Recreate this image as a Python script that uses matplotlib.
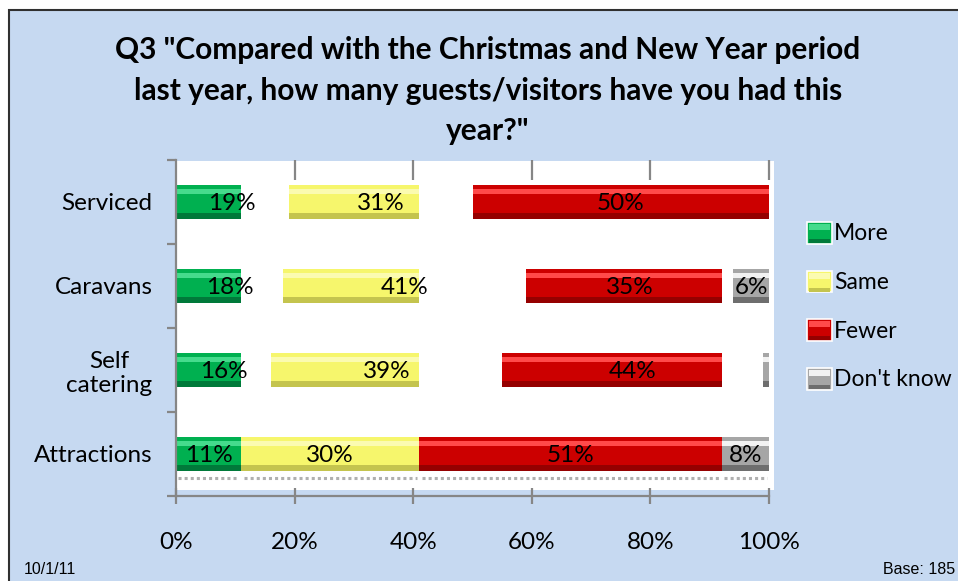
import numpy as np
import matplotlib
matplotlib.use("Agg")
from matplotlib import pyplot as plt
from matplotlib.patches import Rectangle

categories = ['Serviced', 'Caravans', 'Self\ncatering', 'Attractions']
series_names = ['More', 'Same', 'Fewer', "Don't know"]
more = [19, 18, 16, 11]
same = [31, 41, 39, 30]
fewer = [50, 35, 44, 51]
dont_know = [0, 6, 1, 8]
x_ticks = [0, 20, 40, 60, 80, 100]
x_tick_labels = ['0%', '20%', '40%', '60%', '80%', '100%']

title = 'Q3 "Compared with the Christmas and New Year period\nlast year, how many guests/visitors have you had this\nyear?"'

# (main, highlight, shade) per series
colours = [
    ('#00B050', '#45DB8C', '#00793A'),
    ('#F6F66C', '#FBFBB0', '#C4C44E'),
    ('#CC0000', '#FF4A4A', '#950000'),
    ('#A6A6A6', '#F2F2F2', '#6E6E6E'),
]

W, H = 958, 581
BG = '#C6D9F1'
AXIS_GREY = '#868686'
FONT = 'Lato'
FS = 17.5
PT = 0.72  # points per pixel at 100 dpi


def fx(px):
    return px / W


def fy(py):
    return 1 - py / H


def draw_segment(ax, yj, value, left, clip_end, cols):
    main, light, dark = cols
    clip = Rectangle((-5, -2), clip_end + 5, 8, transform=ax.transData)
    layers = [
        ax.barh(yj, value, left=left, height=0.41, color=main, linewidth=0),
        ax.barh(yj - 0.125, value, left=left, height=0.07, color=light, linewidth=0),
        ax.barh(yj + 0.17, value, left=left, height=0.07, color=dark, linewidth=0),
    ]
    for layer in layers:
        for p in layer:
            p.set_clip_path(clip)


def main():
    fig = plt.figure(figsize=(W / 100, H / 100), dpi=100)
    fig.patch.set_facecolor('white')

    # blue chart frame with dark border
    fig.add_artist(Rectangle((fx(9), fy(H + 5)), fx(W + 5 - 9), fy(10) - fy(H + 5),
                             transform=fig.transFigure, facecolor=BG,
                             edgecolor='#303030', linewidth=1.5, zorder=-2))
    # white plot area
    fig.add_artist(Rectangle((fx(176), fy(490)), fx(774 - 176), fy(161) - fy(490),
                             transform=fig.transFigure, facecolor='white',
                             edgecolor='none', zorder=-1))

    fig.text(fx(488), fy(36), title, ha='center', va='top', fontsize=21.5,
             fontweight='bold', family=FONT, linespacing=1.55)

    ax = fig.add_axes([fx(176), fy(496), fx(769 - 176), fy(160) - fy(496)])
    ax.set_facecolor('none')
    ax.set_xlim(0, 100)
    ax.set_ylim(3.5, -0.5)

    data = np.array([more, same, fewer, dont_know], dtype=float)
    starts = np.vstack([np.zeros(len(categories)), np.cumsum(data, axis=0)[:-1]])
    ends = starts + data
    y = np.arange(len(categories))

    for i in range(len(series_names)):
        for j in range(len(categories)):
            if data[i, j] <= 0:
                continue
            # segments stop where the same series stops in the bottom row,
            # except the last segment of a row, which runs to its end
            last_in_row = not np.any(data[i + 1:, j] > 0)
            clip_end = 101 if last_in_row else ends[i, -1]
            draw_segment(ax, y[j], data[i, j], starts[i, j], clip_end, colours[i])
            if data[i, j] >= 2:
                ax.text(starts[i, j] + data[i, j] / 2, y[j] + 0.02, f'{int(data[i, j])}%',
                        ha='center', va='center', fontsize=FS, family=FONT,
                        color='black', zorder=5)

    # dotted floor shadow under the bottom row
    for i in range(len(series_names)):
        if data[i, -1] > 0:
            ax.hlines(3.29, starts[i, -1] + 0.4, ends[i, -1] - 0.4, colors='#B0B0B0',
                      linestyles=(0, (1, 1)), linewidth=2.2, clip_on=False)

    for side in ['top', 'right']:
        ax.spines[side].set_visible(False)
    for side in ['left', 'bottom']:
        ax.spines[side].set_color(AXIS_GREY)
        ax.spines[side].set_linewidth(1.6)

    ax.set_xticks(x_ticks)
    ax.set_xticklabels(x_tick_labels)
    ax.tick_params(axis='x', direction='inout', length=16 * PT, width=1.6,
                   color=AXIS_GREY, pad=28 * PT, labelsize=FS)

    ax.set_yticks(y)
    ax.set_yticklabels(categories)
    ax.set_yticks(np.arange(-0.5, len(categories)), minor=True)
    ax.tick_params(axis='y', which='major', length=0, pad=17, labelsize=FS)
    ax.tick_params(axis='y', which='minor', length=9 * PT, width=1.6, color=AXIS_GREY)
    for lab in ax.get_yticklabels() + ax.get_xticklabels():
        lab.set_family(FONT)
    for lab in ax.get_yticklabels():
        lab.set_multialignment('center')

    # short ticks hanging from the top of the plot area
    top = ax.secondary_xaxis('top')
    top.set_xticks(x_ticks[1:])
    top.set_xticklabels([])
    top.tick_params(direction='in', length=20 * PT, width=1.6, color=AXIS_GREY)
    top.spines['top'].set_visible(False)

    # legend
    for k, name in enumerate(series_names):
        yc = 233 + k * 48.5
        main_c, light_c, dark_c = colours[k]
        fig.add_artist(Rectangle((fx(807), fy(yc + 11)), fx(25), fy(yc - 11) - fy(yc + 11),
                                 transform=fig.transFigure, facecolor=main_c,
                                 edgecolor='white', linewidth=1.2, zorder=3))
        fig.add_artist(Rectangle((fx(809), fy(yc - 3)), fx(21), fy(yc - 9) - fy(yc - 3),
                                 transform=fig.transFigure, facecolor=light_c,
                                 edgecolor='none', zorder=3.1))
        fig.add_artist(Rectangle((fx(809), fy(yc + 10)), fx(21), fy(yc + 6) - fy(yc + 10),
                                 transform=fig.transFigure, facecolor=dark_c,
                                 edgecolor='none', zorder=3.1))
        fig.text(fx(834), fy(yc + 1), name, ha='left', va='center', fontsize=16.5,
                 family=FONT)

    fig.text(fx(24), fy(569), '10/1/11', ha='left', va='center', fontsize=11.5,
             family='Liberation Sans')
    fig.text(fx(955), fy(569), 'Base: 185', ha='right', va='center', fontsize=11.5,
             family='Liberation Sans')

    fig.savefig('out.png', dpi=100, facecolor=fig.get_facecolor())


main()
